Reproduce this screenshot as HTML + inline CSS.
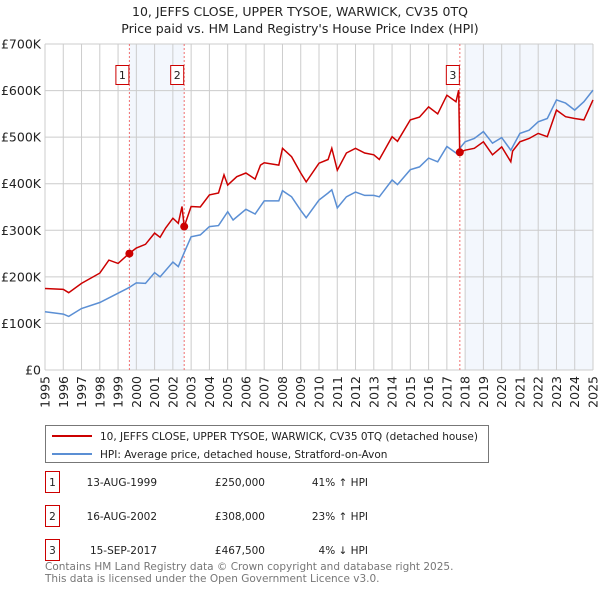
<!DOCTYPE html>
<html><head><meta charset="utf-8"><style>
body{margin:0;background:#fff;font-family:"Liberation Sans","DejaVu Sans",sans-serif;}
svg text{font-family:"DejaVu Sans","Liberation Sans",sans-serif;}
</style></head><body>
<svg id="chart" width="600" height="590" viewBox="0 0 600 590" xmlns="http://www.w3.org/2000/svg">
<text x="300" y="16" text-anchor="middle" font-size="12.5" fill="#222">10, JEFFS CLOSE, UPPER TYSOE, WARWICK, CV35 0TQ</text>
<text x="300" y="33" text-anchor="middle" font-size="12.5" fill="#222">Price paid vs. HM Land Registry's House Price Index (HPI)</text>
<g id="plot"></g>
<g>
<rect x="45.5" y="425.5" width="443" height="37" fill="#fff" stroke="#777"/>
<line x1="52" y1="436" x2="92" y2="436" stroke="#cc0000" stroke-width="2"/>
<text x="100" y="440" font-size="10.5" fill="#222">10, JEFFS CLOSE, UPPER TYSOE, WARWICK, CV35 0TQ (detached house)</text>
<line x1="52" y1="454" x2="92" y2="454" stroke="#5b8fd4" stroke-width="2"/>
<text x="100" y="458" font-size="10.5" fill="#222">HPI: Average price, detached house, Stratford-on-Avon</text>
</g>
<g id="table" font-size="10.5" fill="#222"></g>
<text x="45" y="570" font-size="10.5" fill="#777">Contains HM Land Registry data © Crown copyright and database right 2025.</text>
<text x="45" y="582" font-size="10.5" fill="#777">This data is licensed under the Open Government Licence v3.0.</text>
</svg>
<script>
const hpiYears=[1995,1996,1996.3,1997,1998,1999,1999.6,2000,2000.5,2001,2001.3,2002,2002.3,2002.6,2003,2003.5,2004,2004.5,2005,2005.3,2006,2006.5,2007,2007.8,2008,2008.5,2009,2009.3,2010,2010.5,2010.7,2011,2011.5,2012,2012.5,2013,2013.3,2014,2014.3,2015,2015.5,2016,2016.5,2017,2017.5,2018,2018.5,2019,2019.5,2020,2020.5,2021,2021.5,2022,2022.5,2023,2023.5,2024,2024.5,2025];
const hpiValues=[125,120,115,132,145,165,177,187,186,209,200,232,222,250,286,290,308,310,340,322,345,335,363,363,385,372,343,327,365,380,387,348,372,382,375,375,372,408,398,430,436,455,447,480,466,490,497,512,487,499,472,508,515,533,540,580,573,558,576,601];
const priceYears=[1995,1996,1996.3,1997,1998,1998.5,1999,1999.6,2000,2000.5,2001,2001.3,2001.6,2002,2002.3,2002.5,2002.62,2003,2003.5,2004,2004.5,2004.8,2005,2005.5,2006,2006.5,2006.8,2007,2007.8,2008,2008.5,2009,2009.3,2010,2010.5,2010.7,2011,2011.5,2012,2012.5,2013,2013.3,2014,2014.3,2015,2015.5,2016,2016.5,2017,2017.5,2017.65,2017.7,2018,2018.5,2019,2019.5,2020,2020.5,2020.6,2021,2021.5,2022,2022.5,2023,2023.5,2024,2024.5,2025];
const priceValues=[175,173,166,186,208,236,229,250,262,270,294,285,305,326,315,351,308,351,350,376,380,419,397,415,423,410,440,445,440,476,458,423,404,444,452,476,429,466,476,466,462,452,501,491,537,543,565,550,590,576,601,467.5,472,476,490,462,479,447,470,490,497,508,501,558,544,540,537,580];
const saleLabels=["1","2","3"];
const saleYears=[1999.62,2002.62,2017.71];
const saleValues=[250,308,467.5];
const saleDates=["13-AUG-1999","16-AUG-2002","15-SEP-2017"];
const salePrices=["£250,000","£308,000","£467,500"];
const saleDiffs=["41% ↑ HPI","23% ↑ HPI","4% ↓ HPI"];
const yTicks=[0,100,200,300,400,500,600,700];
const yTickLabels=["£0","£100K","£200K","£300K","£400K","£500K","£600K","£700K"];
const xTicks=[1995,1996,1997,1998,1999,2000,2001,2002,2003,2004,2005,2006,2007,2008,2009,2010,2011,2012,2013,2014,2015,2016,2017,2018,2019,2020,2021,2022,2023,2024,2025];

const NS="http://www.w3.org/2000/svg";
const X0=45,X1=593,Y0=370,Y1=44;
const xs=y=>X0+(y-1995)/30*(X1-X0);
const ys=v=>Y0-v/700*(Y0-Y1);
const plot=document.getElementById('plot');
function mk(tag,attrs,parent){const e=document.createElementNS(NS,tag);for(const k in attrs)e.setAttribute(k,attrs[k]);(parent||plot).appendChild(e);return e;}
let s1=mk('rect',{x:xs(saleYears[0]),y:Y1,width:xs(saleYears[1])-xs(saleYears[0]),height:Y0-Y1,fill:'#eef3fc',opacity:0.7});


let s2=mk('rect',{x:xs(2018),y:Y1,width:X1-xs(2018),height:Y0-Y1,fill:'#eef3fc',opacity:0.7});


xTicks.forEach(t=>{
  const l=mk('line',{x1:xs(t),x2:xs(t),y1:Y1,y2:Y0,stroke:'#ccc','stroke-width':1});
  
  
  const tx=mk('text',{x:0,y:0,transform:`translate(${xs(t)+4.5},376) rotate(-90)`,'text-anchor':'end','font-size':12.5,fill:'#222'});
  tx.textContent=t;
  
  
});
yTicks.forEach((t,i)=>{
  const l=mk('line',{x1:X0,x2:X1,y1:ys(t),y2:ys(t),stroke:'#ccc','stroke-width':1});
  
  
  const tx=mk('text',{x:X0-4,y:ys(t)+4.5,'text-anchor':'end','font-size':12.5,fill:'#222'});
  tx.textContent=yTickLabels[i];
  
  
});
saleYears.forEach((y,i)=>{
  const l=mk('line',{x1:xs(y),x2:xs(y),y1:Y1,y2:Y0,stroke:'#f07070','stroke-width':1,'stroke-dasharray':'2,2'});
  
  
});
const pts=(xa,va)=>xa.map((x,i)=>xs(x).toFixed(1)+','+ys(va[i]).toFixed(1)).join(' ');
const hl=mk('polyline',{points:pts(hpiYears,hpiValues),fill:'none',stroke:'#5b8fd4','stroke-width':1.5});


const pl=mk('polyline',{points:pts(priceYears,priceValues),fill:'none',stroke:'#cc0000','stroke-width':1.5});


saleYears.forEach((y,i)=>{
  const c=mk('circle',{cx:xs(y),cy:ys(saleValues[i]),r:4,fill:'#cc0000'});
  
  
  const g=mk('g',{});
  
  
  mk('rect',{x:xs(y)-13.5,y:65.5,width:13,height:19,fill:'#fff',stroke:'#cc0000'},g);
  const t=mk('text',{x:xs(y)-7,y:79,'text-anchor':'middle','font-size':11,fill:'#222'},g);
  t.textContent=saleLabels[i];
});
const tb=document.getElementById('table');
const rowY=[482,516,550];
saleLabels.forEach((lab,i)=>{
  const g=mk('g',{},tb);
  
  
  mk('rect',{x:45.5,y:rowY[i]-10.5,width:14,height:21,fill:'#fff',stroke:'#cc0000'},g);
  let t=mk('text',{x:52.5,y:rowY[i]+4,'text-anchor':'middle'},g);t.textContent=lab;
  t=mk('text',{x:157,y:rowY[i]+4,'text-anchor':'end'},g);t.textContent=saleDates[i];
  t=mk('text',{x:265,y:rowY[i]+4,'text-anchor':'end'},g);t.textContent=salePrices[i];
  t=mk('text',{x:368,y:rowY[i]+4,'text-anchor':'end'},g);t.textContent=saleDiffs[i];
});
</script>
</body></html>
